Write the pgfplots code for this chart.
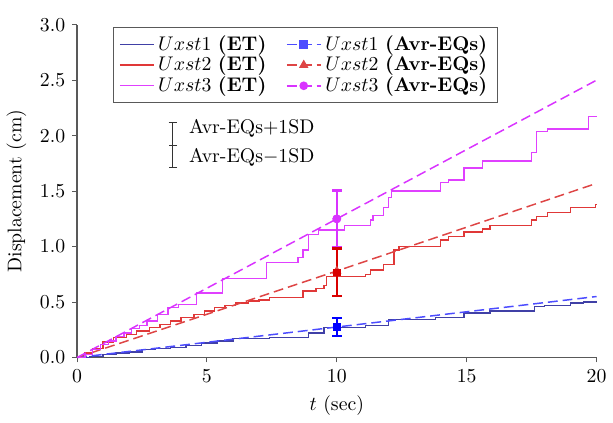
\documentclass[border=0pt]{standalone}
\usepackage{pgfplots}
\pgfplotsset{compat=1.18}
\definecolor{etblue}{rgb}{0.25,0.25,0.65}
\definecolor{etred}{rgb}{0.88,0.22,0.22}
\definecolor{etmag}{rgb}{0.88,0.25,1.0}
\definecolor{eqblue}{rgb}{0.3,0.3,1.0}
\definecolor{eqred}{rgb}{0.87,0.27,0.27}
\definecolor{eqmag}{rgb}{0.85,0.2,1.0}
\begin{document}
\begin{tikzpicture}
\begin{axis}[
    scale only axis,
    width=263pt, height=168.5pt,
    xmin=0, xmax=20, ymin=0, ymax=3,
    axis lines*=left,
    axis line style={gray!70!black, line width=0.6pt},
    tick align=outside,
    tick style={gray!70!black, line width=0.5pt},
    major tick length=2.5pt,
    xtick={0,5,10,15,20},
    ytick={0,0.5,1,1.5,2,2.5,3},
    yticklabel style={/pgf/number format/fixed, /pgf/number format/fixed zerofill, /pgf/number format/precision=1},
    xlabel={$t$ (sec)},
    ylabel={Displacement (cm)},
    legend columns=2,
    legend cell align=left,
    legend style={at={(axis cs:1.37,2.98)}, anchor=north west, draw=gray!70!black, line width=0.6pt,
        /tikz/every even column/.append style={column sep=8pt}, row sep=-2.5pt},
    clip=false,
]
% ET (step curves)
\addplot[const plot, color=etblue, line width=0.7pt] coordinates {
 (0,0) (0.5,0.01) (1.0,0.03) (1.5,0.04) (2.0,0.05) (2.5,0.07) (3.0,0.08) (3.6,0.09)
 (4.2,0.11) (4.8,0.13) (5.4,0.15) (6.0,0.17) (7.4,0.18) (8.9,0.22) (9.5,0.27)
 (11.1,0.29) (12.0,0.34) (13.8,0.36) (14.9,0.40) (15.9,0.42) (17.6,0.46) (18.0,0.47)
 (19.0,0.49) (19.5,0.50) (20,0.50)};
\addlegendentry{$Uxst1$ \textbf{(ET)}}
\addplot[color=eqblue, dash pattern=on 5pt off 2.5pt, line width=0.75pt, mark=square*, mark size=1.8pt, mark indices={2}, mark options={solid}] coordinates {(0,0) (10,0.275) (20,0.55)};
\addlegendentry{$Uxst1$ \textbf{(Avr-EQs)}}
\addplot[const plot, color=etred, line width=0.7pt] coordinates {
 (0,0) (0.3,0.04) (0.6,0.08) (1.0,0.14) (1.4,0.18) (1.9,0.21) (2.3,0.24) (2.8,0.27)
 (3.2,0.30) (3.6,0.33) (4.0,0.36) (4.5,0.39) (4.9,0.42) (5.3,0.45) (5.7,0.47) (6.1,0.49)
 (6.6,0.51) (7.0,0.52) (7.4,0.54) (8.7,0.60) (9.2,0.62) (9.5,0.65) (9.6,0.73)
 (11.1,0.75) (11.3,0.79) (11.8,0.84) (12.2,0.97) (12.4,1.00) (14.0,1.06) (14.3,1.09)
 (14.9,1.13) (15.6,1.16) (15.9,1.19) (17.5,1.24) (17.7,1.27) (18.1,1.31) (19.0,1.35)
 (19.95,1.38) (20,1.38)};
\addlegendentry{$Uxst2$ \textbf{(ET)}}
\addplot[color=eqred, dash pattern=on 5pt off 2.5pt, line width=0.75pt, mark=triangle*, mark size=2pt, mark indices={2}, mark options={solid}] coordinates {(0,0) (10,0.78) (20,1.57)};
\addlegendentry{$Uxst2$ \textbf{(Avr-EQs)}}
\addplot[const plot, color=etmag, line width=0.7pt] coordinates {
 (0,0) (0.3,0.03) (0.6,0.07) (0.9,0.12) (1.2,0.15) (1.5,0.19) (1.8,0.22) (2.1,0.26)
 (2.4,0.29) (2.7,0.33) (3.1,0.39) (3.5,0.45) (3.9,0.48) (4.6,0.58) (5.6,0.71)
 (7.3,0.855) (8.5,0.90) (8.7,0.97) (8.9,1.11) (9.3,1.15) (10.3,1.19) (11.3,1.24)
 (11.4,1.28) (11.8,1.35) (12.0,1.44) (12.1,1.50) (14.0,1.58) (14.3,1.60) (14.9,1.71)
 (15.6,1.77) (17.5,1.85) (17.7,2.04) (18.1,2.06) (19.7,2.17) (20,2.17)};
\addlegendentry{$Uxst3$ \textbf{(ET)}}
\addplot[color=eqmag, dash pattern=on 5pt off 2.5pt, line width=0.75pt, mark=*, mark size=1.8pt, mark indices={2}, mark options={solid}] coordinates {(0,0) (10,1.25) (20,2.5)};
\addlegendentry{$Uxst3$ \textbf{(Avr-EQs)}}
% error bars at t = 10 s
\addplot[forget plot, color=eqmag, only marks, mark=*, mark size=2pt,
    error bars/.cd, y dir=both, y explicit,
    error bar style={line width=1.3pt},
    error mark options={rotate=90, mark size=2.4pt, line width=1.3pt}]
    coordinates {(10,1.25) +- (0,0.255)};
\addplot[forget plot, color=red!85!black, only marks, mark=square*, mark size=1.6pt,
    error bars/.cd, y dir=both, y explicit,
    error bar style={line width=1.3pt},
    error mark options={rotate=90, mark size=2.4pt, line width=1.3pt}]
    coordinates {(10,0.77) +- (0,0.215)};
\addplot[forget plot, color=blue, only marks, mark=square*, mark size=1.8pt,
    error bars/.cd, y dir=both, y explicit,
    error bar style={line width=1.3pt},
    error mark options={rotate=90, mark size=2.4pt, line width=1.3pt}]
    coordinates {(10,0.275) +- (0,0.08)};
% SD key
\addplot[forget plot, color=black!80, only marks, mark=-, mark size=2.2pt,
    error bars/.cd, y dir=both, y explicit,
    error bar style={line width=0.6pt},
    error mark options={rotate=90, mark size=2.2pt, line width=0.6pt}]
    coordinates {(3.69,1.915) +- (0,0.205)};
\node[anchor=west, inner sep=0pt] at (axis cs:4.3,2.07) {Avr-EQs$+$1SD};
\node[anchor=west, inner sep=0pt] at (axis cs:4.3,1.80) {Avr-EQs$-$1SD};
\coordinate (o) at (axis cs:0,0);
\coordinate (e) at (axis cs:20,3);
\end{axis}
\path ([shift={(-38pt,-25.5pt)}]o) rectangle ([shift={(5.5pt,12.5pt)}]e);
\end{tikzpicture}
\end{document}
